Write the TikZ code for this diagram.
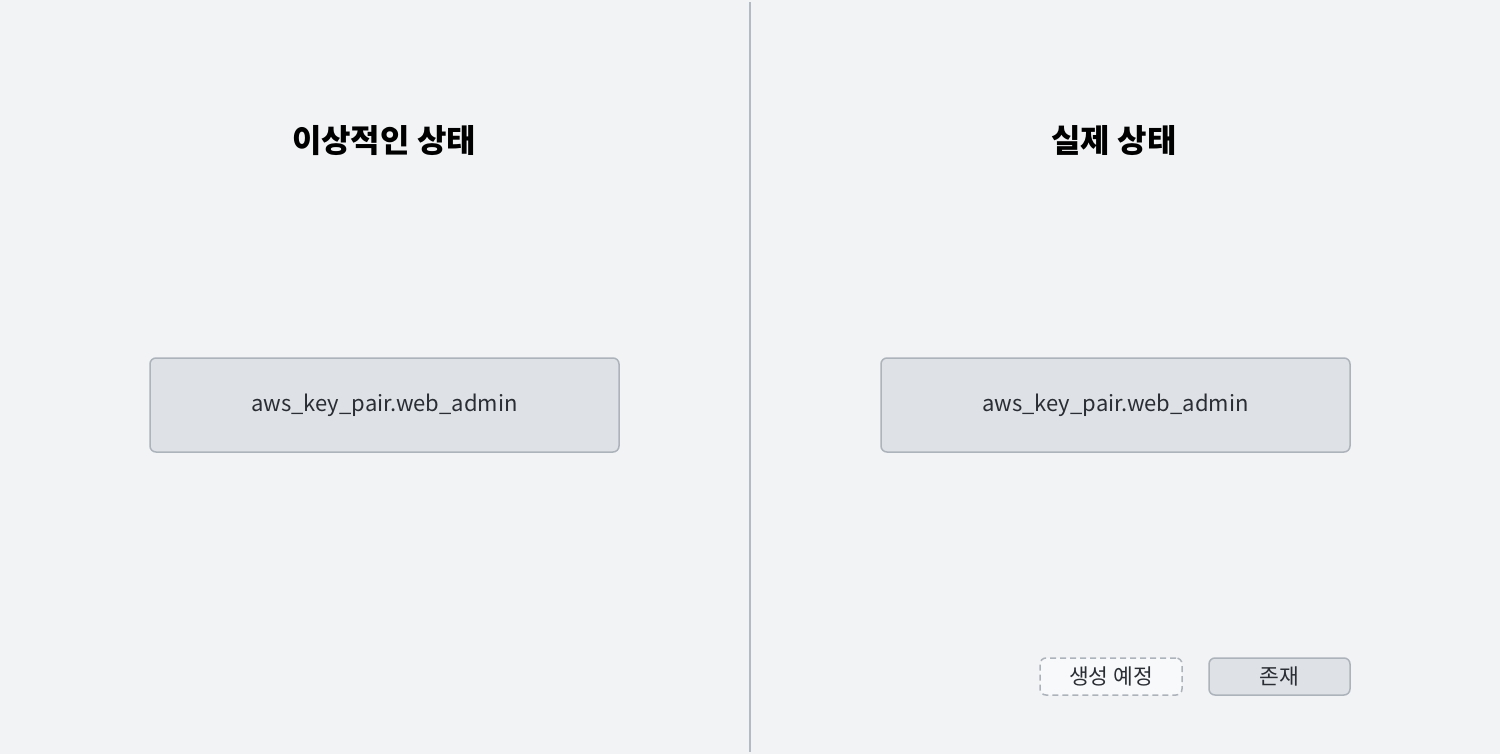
\documentclass[tikz,border=0pt]{standalone}
\usepackage{fontspec}
\setmainfont{Noto Sans CJK KR}
\definecolor{bgc}{HTML}{F2F3F5}
\definecolor{boxfill}{HTML}{DEE1E6}
\definecolor{boxdraw}{HTML}{ADB3BB}
\definecolor{divc}{HTML}{B3BAC5}
\definecolor{txt}{HTML}{2A2D33}
\definecolor{planfill}{HTML}{F8F9FA}
\tikzset{
  resbox/.style={draw=boxdraw, fill=boxfill, line width=1.5pt, rounded corners=6pt, minimum width=469pt, minimum height=94pt, text=txt, font=\fontsize{22}{26}\selectfont, inner sep=0pt},
  titlestyle/.style={font=\fontsize{32}{38}\selectfont\bfseries, text=black, inner sep=0pt},
  legplanned/.style={draw=boxdraw, fill=planfill, dashed, dash pattern=on 6pt off 4pt, line width=1.5pt, rounded corners=6pt, minimum width=142pt, minimum height=37pt, text=txt, font=\fontsize{21.5}{25}\selectfont, inner sep=0pt},
  legexist/.style={draw=boxdraw, fill=boxfill, line width=1.5pt, rounded corners=6pt, minimum width=141pt, minimum height=37pt, text=txt, font=\fontsize{21.5}{25}\selectfont, inner sep=0pt}
}
\begin{document}
\begin{tikzpicture}[x=1pt,y=-1pt]
\fill[bgc] (0,0) rectangle (1500,754);
\useasboundingbox (0,0) rectangle (1500,754);
\coordinate (dtop) at (750,2);
\coordinate (dbot) at (750,752);
\draw[divc, line width=1.5pt] (dtop) -- (dbot);
\node[titlestyle] (t1) at (384,141) {이상적인 상태};
\node[titlestyle] (t2) at (1114,141) {실제 상태};
\node[resbox] (b1) at (384.5,405) {aws\_key\_pair.web\_admin};
\node[resbox] (b2) at (1115.5,405) {aws\_key\_pair.web\_admin};
\node[legplanned] (lp) at (1111,676.5) {생성 예정};
\node[legexist] (le) at (1279.5,676.5) {존재};
\end{tikzpicture}
\end{document}
